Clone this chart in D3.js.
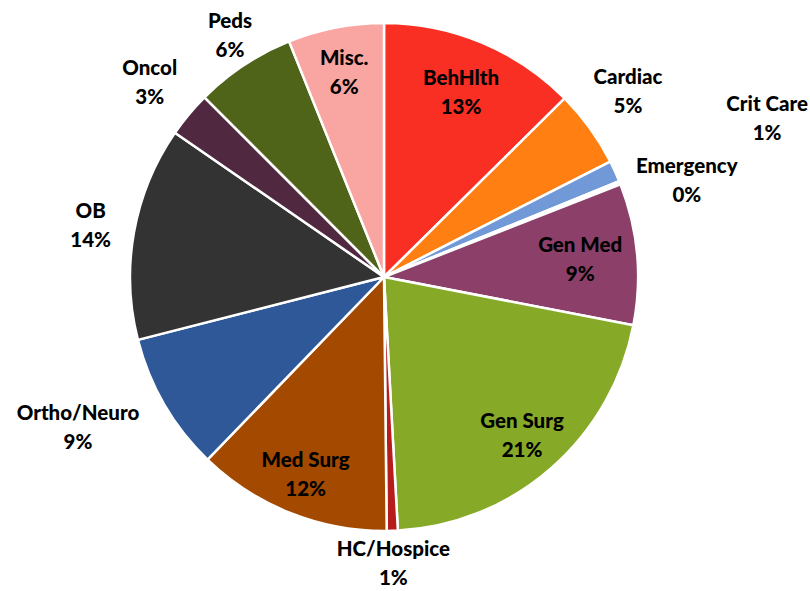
<!DOCTYPE html>
<html>
<head>
<meta charset="utf-8">
<script src="https://cdn.jsdelivr.net/npm/d3@7"></script>
<style>
  body { margin: 0; background: #fff; }
  svg { display: block; }
  text { font-family: Lato, "Open Sans", sans-serif; font-weight: 900; font-size: 20.5px; fill: #000; }
</style>
</head>
<body>
<div id="chart"></div>
<script>
// slices, clockwise from 12 o'clock
const categories = ['BehHlth', 'Cardiac', 'Crit Care', 'Emergency', 'Gen Med', 'Gen Surg',
    'HC/Hospice', 'Med Surg', 'Ortho/Neuro', 'OB', 'Oncol', 'Peds', 'Misc.'];
const values = [12.6, 4.9, 1.36, 0.2, 9.0, 21.1, 0.7, 12.4, 8.8, 13.6, 2.9, 6.4, 6.1];
const colors = ['#f92f24', '#ff7f12', '#7199d8', '#ffffff', '#8b3f69', '#87a928',
    '#b71c1c', '#a34900', '#2e5897', '#333333', '#50283f', '#4f6319', '#f9a5a2'];

// label placement (radius from centre, angle nudge in degrees)
const labelPos = {
    'BehHlth': [200, 0], 'Cardiac': [307, -1.5], 'Crit Care': [415, 2], 'Emergency': [318, 4],
    'Gen Med': [197, 0], 'Gen Surg': [210, 0], 'HC/Hospice': [286, 0], 'Med Surg': [212, 0],
    'Ortho/Neuro': [341, 4], 'OB': [298, 0], 'Oncol': [305, 0], 'Peds': [287, 1], 'Misc.': [209, 0]
};

const width = 810;
const height = 591;
const cx = 384, cy = 277;
const radius = 254;

const svg = d3.select('#chart')
    .append('svg')
    .attr('width', width)
    .attr('height', height);

const g = svg.append('g')
    .attr('transform', `translate(${cx}, ${cy})`);

const data = categories.map((c, i) => ({ name: c, value: values[i], color: colors[i] }));
const total = d3.sum(values);

const pie = d3.pie()
    .value(d => d.value)
    .sort(null);

const arc = d3.arc()
    .innerRadius(0)
    .outerRadius(radius);

const arcs = pie(data);

g.selectAll('path')
    .data(arcs)
    .join('path')
    .attr('d', arc)
    .attr('fill', d => d.data.color)
    .attr('stroke', '#fff')
    .attr('stroke-width', 2.5)
    .attr('stroke-linejoin', 'round');

const label = g.selectAll('g.label')
    .data(arcs)
    .join('g')
    .attr('class', 'label')
    .attr('transform', d => {
        const [r, nudge] = labelPos[d.data.name];
        const a = (d.startAngle + d.endAngle) / 2 + nudge * Math.PI / 180;
        return `translate(${r * Math.sin(a)}, ${-r * Math.cos(a)})`;
    });

label.append('text')
    .attr('text-anchor', 'middle')
    .attr('y', -7)
    .text(d => d.data.name);

label.append('text')
    .attr('text-anchor', 'middle')
    .attr('y', 22)
    .text(d => Math.round(d.data.value / total * 100) + '%');
</script>
</body>
</html>
